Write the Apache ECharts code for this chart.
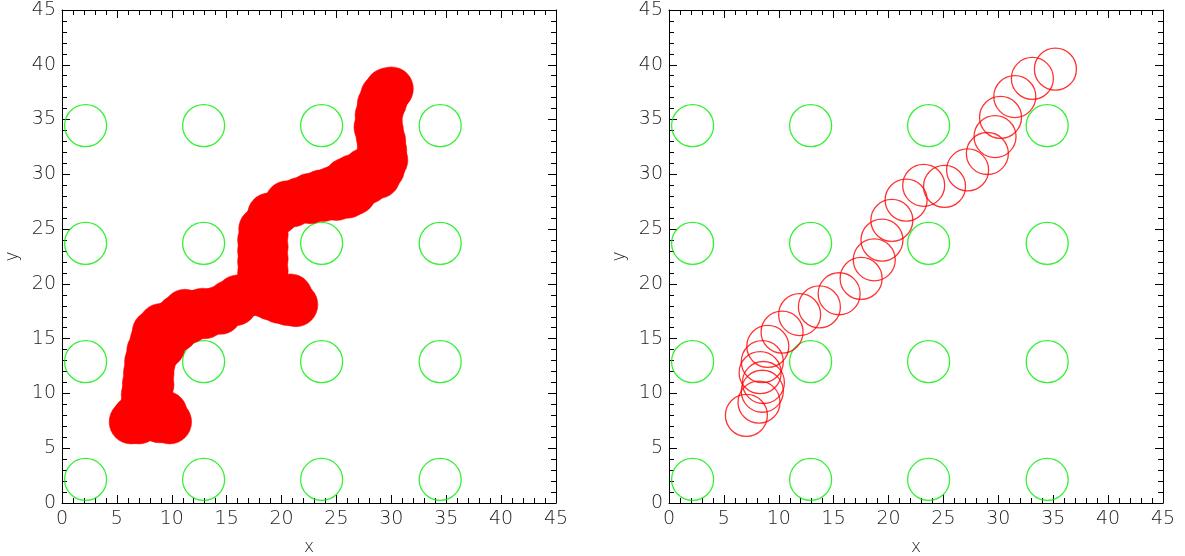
<!DOCTYPE html>
<html>
<head>
<meta charset="utf-8">
<script src="https://cdn.jsdelivr.net/npm/echarts@6/dist/echarts.min.js"></script>
<style>
  html, body { margin: 0; padding: 0; background: #fff; }
  #chart { width: 1185px; height: 556px; }
</style>
</head>
<body>
<div id="chart"></div>
<script>
// Fixed reference targets laid out on a 4x4 grid
const gridX = [2.15, 12.9, 23.65, 34.45];
const gridY = [2.15, 12.9, 23.7, 34.45];

// Dense track of positions (left panel)
const trackX = [
  6.3, 6.6, 7.0, 7.5, 8.2, 8.9, 9.8, 9.4,
  7.3, 7.9, 7.4, 8.1, 7.5, 8.2, 7.6, 8.2, 7.7, 8.3, 7.9, 8.6, 8.2, 9.2, 8.4, 9.6,
  9.0, 9.8, 10.4, 10.6, 11.2, 11.6,
  12.0, 12.8, 13.0, 13.6, 14.3, 14.4, 15.2, 15.8, 16.0, 16.8, 17.5, 18.3, 19.0, 19.8, 20.6, 21.3, 20.8,
  18.0, 18.6, 18.0, 18.6, 18.0, 18.6, 18.0, 18.6, 18.0, 18.6, 18.1, 18.6,
  18.9, 19.6, 20.5, 21.0, 21.6, 22.6, 22.6, 23.6, 23.8, 24.6, 25.0, 25.3, 25.9, 26.0, 26.5, 26.6, 27.2, 27.6, 27.8, 28.4, 28.8, 29.2, 29.5,
  29.4, 28.9, 29.3, 28.8, 29.1, 28.6, 29.0, 28.7, 29.1, 28.9, 29.4, 29.2, 29.7, 30.0, 29.6
];
const trackY = [
  7.4, 7.8, 7.4, 7.9, 7.7, 7.5, 7.4, 8.2,
  8.8, 8.9, 9.9, 9.8, 10.9, 10.8, 11.9, 11.8, 12.9, 12.7, 13.9, 13.6, 14.8, 14.3, 15.6, 15.2,
  16.2, 16.4, 15.8, 17.0, 17.5, 16.6,
  17.4, 17.6, 17.0, 17.6, 17.8, 17.4, 18.3, 18.2, 18.8, 19.0, 19.2, 19.0, 18.7, 18.4, 18.2, 18.1, 18.9,
  20.0, 20.2, 21.0, 21.2, 22.0, 22.3, 23.0, 23.4, 24.0, 24.5, 25.0, 25.5,
  26.3, 26.5, 27.4, 27.2, 27.7, 28.1, 27.5, 28.4, 27.7, 28.7, 27.8, 29.0, 29.5, 28.0, 29.8, 28.3, 29.0, 30.4, 29.3, 30.6, 29.8, 30.5, 31.3,
  32.2, 32.4, 33.1, 33.4, 34.0, 34.3, 34.9, 35.4, 35.8, 36.4, 36.6, 37.2, 37.4, 37.8, 37.7
];

// Sparse sample of positions (right panel)
const sampleX = [7.05, 8.2, 8.5, 8.6, 8.3, 8.5, 9.0, 10.3, 11.9, 13.7, 15.5, 17.5, 18.7, 19.4, 20.3, 21.6, 23.2, 25.1, 27.2, 29.0, 29.7, 30.2, 31.5, 33.1, 35.2];
const sampleY = [8.0, 9.2, 10.2, 11.0, 11.9, 12.9, 14.3, 15.6, 17.2, 17.9, 19.1, 20.5, 22.2, 24.0, 25.8, 27.65, 29.0, 28.9, 30.4, 31.9, 33.45, 35.2, 37.1, 38.75, 39.6];

const axisTicks = ['0', '5', '10', '15', '20', '25', '30', '35', '40', '45'];

function zip(xs, ys) { return xs.map((x, i) => [x, ys[i]]); }
function gridPoints() {
  const pts = [];
  gridY.forEach(y => gridX.forEach(x => pts.push([x, y])));
  return pts;
}

const FONT = 'DejaVu Sans';
const ink = '#000';

function valueAxis(gridIndex, position, showLabel, name) {
  const isX = position === 'bottom' || position === 'top';
  return {
    type: 'value', gridIndex, position,
    min: 0, max: 45, interval: 5,
    name: name || '',
    nameLocation: 'middle',
    nameGap: isX ? 36 : 41,
    nameRotate: isX ? 0 : 90,
    nameTextStyle: { fontFamily: FONT, fontSize: 17, color: '#222', fontWeight: 200 },
    axisLine: { show: true, onZero: false, lineStyle: { color: ink, width: 1 } },
    axisTick: { show: true, inside: true, length: 8, lineStyle: { color: ink, width: 1 } },
    minorTick: { show: true, splitNumber: 5, length: 5, lineStyle: { color: ink, width: 1 } },
    splitLine: { show: false },
    minorSplitLine: { show: false },
    axisLabel: {
      show: showLabel, margin: isX ? 7 : 6,
      fontFamily: FONT, fontSize: 19, color: '#222', fontWeight: 200,
      formatter: v => axisTicks[Math.round(v / 5)]
    }
  };
}

const grids = [
  { left: 62, top: 10, width: 494, height: 493, outerBoundsMode: 'none', containLabel: false },
  { left: 669, top: 10, width: 494, height: 493, outerBoundsMode: 'none', containLabel: false }
];

const xAxes = [], yAxes = [];
[0, 1].forEach(g => {
  xAxes.push(valueAxis(g, 'bottom', true, 'x'));
  xAxes.push(valueAxis(g, 'top', false));
  yAxes.push(valueAxis(g, 'left', true, 'y'));
  yAxes.push(valueAxis(g, 'right', false));
});

const ringStyle = color => ({ color: 'rgba(0,0,0,0)', borderColor: color, borderWidth: 1.3 });

const series = [
  {
    type: 'scatter', xAxisIndex: 0, yAxisIndex: 0, symbolSize: 42, z: 2,
    itemStyle: ringStyle('#00ee00'), data: gridPoints()
  },
  {
    type: 'scatter', xAxisIndex: 0, yAxisIndex: 0, symbolSize: 44, z: 3,
    itemStyle: { color: '#ff0000', borderColor: '#ff0000', borderWidth: 0.5, opacity: 1 },
    data: zip(trackX, trackY)
  },
  {
    type: 'scatter', xAxisIndex: 2, yAxisIndex: 2, symbolSize: 42, z: 2,
    itemStyle: ringStyle('#00ee00'), data: gridPoints()
  },
  {
    type: 'scatter', xAxisIndex: 2, yAxisIndex: 2, symbolSize: 42, z: 3,
    itemStyle: ringStyle('#ff0000'), data: zip(sampleX, sampleY)
  }
];

const chart = echarts.init(document.getElementById('chart'), null, { renderer: 'canvas' });
chart.setOption({
  animation: false,
  backgroundColor: '#fff',
  grid: grids,
  xAxis: xAxes,
  yAxis: yAxes,
  series
});
</script>
</body>
</html>
